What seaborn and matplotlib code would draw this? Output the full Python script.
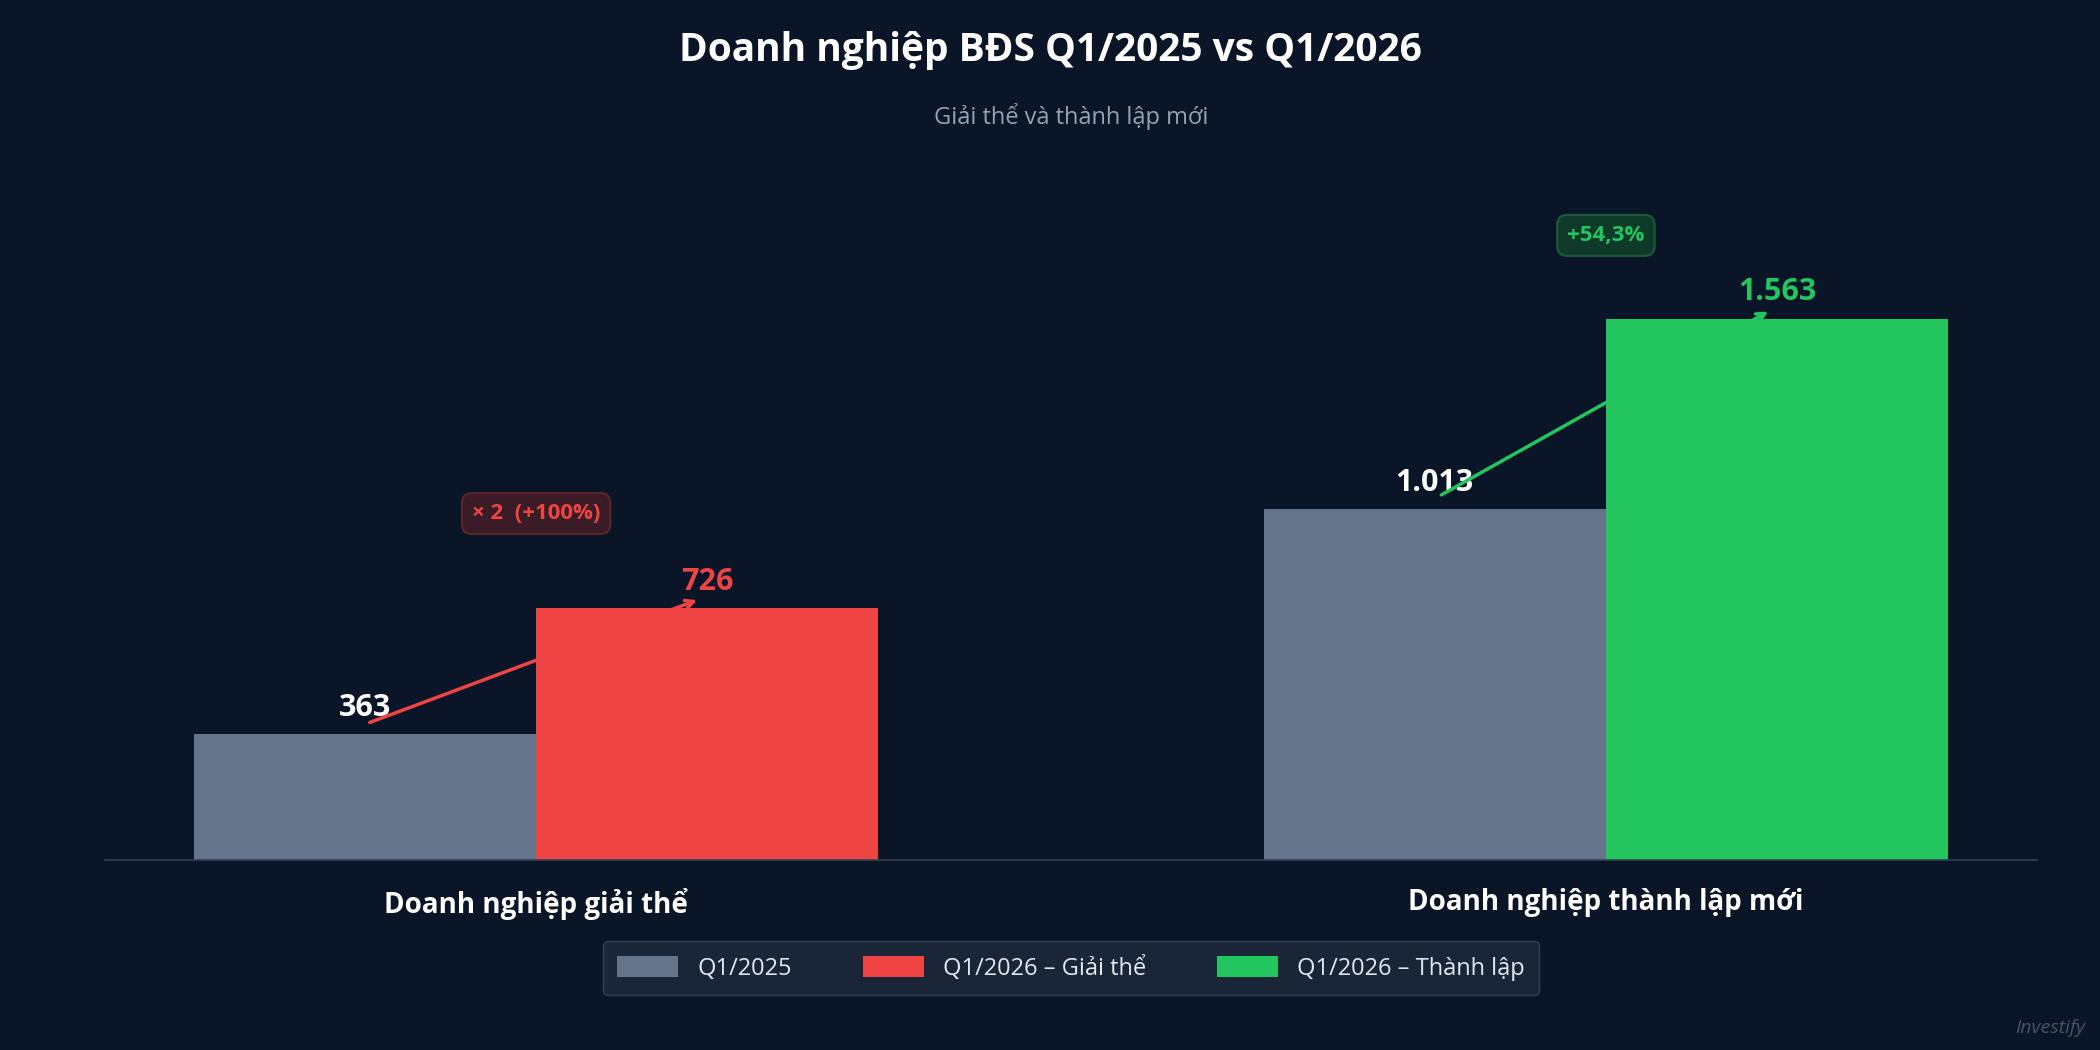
import matplotlib
matplotlib.use("Agg")
import matplotlib.pyplot as plt
import seaborn as sns
import pandas as pd
from matplotlib.patches import Patch

categories = ["Doanh nghiệp giải thể", "Doanh nghiệp thành lập mới"]
periods = ["Q1/2025", "Q1/2026"]
values_2025 = [363, 1013]
values_2026 = [726, 1563]
value_labels_2025 = ["363", "1.013"]
value_labels_2026 = ["726", "1.563"]
badges = ["× 2  (+100%)", "+54,3%"]
legend_labels = ["Q1/2025", "Q1/2026 – Giải thể", "Q1/2026 – Thành lập"]

BG = "#0a1628"
GRAY = "#64748b"
RED = "#ef4444"
GREEN = "#22c55e"
accent = [RED, GREEN]

sns.set_theme(style="dark")
plt.rcParams["font.family"] = ["Open Sans", "Noto Sans", "DejaVu Sans"]

df = pd.DataFrame({
    "cat": categories * 2,
    "period": [periods[0]] * 2 + [periods[1]] * 2,
    "value": values_2025 + values_2026,
})

fig = plt.figure(figsize=(21, 10.5), dpi=100, facecolor=BG)
ax = fig.add_axes([0.05, 0.181, 0.92, 0.64])
ax.set_facecolor(BG)
sns.barplot(data=df, x="cat", y="value", hue="period", order=categories,
            hue_order=periods, width=0.64, palette=[GRAY, RED], ax=ax,
            legend=False, saturation=1, edgecolor="none", linewidth=0)

bars = [p for p in ax.patches]
bars[3].set_facecolor(GREEN)

ax.set_xlim(-0.403, 1.403)
ax.set_ylim(0, 1940)
ax.set_yticks([])
ax.set_xlabel("")
ax.set_ylabel("")
for s in ["top", "right", "left"]:
    ax.spines[s].set_visible(False)
ax.spines["bottom"].set_color("#334155")
ax.spines["bottom"].set_linewidth(1.2)
ax.tick_params(axis="x", length=0, pad=20)
for t in ax.get_xticklabels():
    t.set_color("white"); t.set_fontsize(20); t.set_fontweight("bold")
ax.grid(False)

for i in range(2):
    ax.annotate(value_labels_2025[i], (i - 0.16, values_2025[i]), xytext=(0, 8),
                textcoords="offset points", ha="center", va="bottom",
                color="white", fontsize=22, fontweight="bold")
    ax.annotate(value_labels_2026[i], (i + 0.16, values_2026[i]), xytext=(0, 8),
                textcoords="offset points", ha="center", va="bottom",
                color=accent[i], fontsize=22, fontweight="bold")

arrows = [((-0.158, 394), (0.153, 753)), ((0.844, 1050), (1.154, 1587))]
for i, (s, e) in enumerate(arrows):
    ax.annotate("", xy=e, xytext=s,
                arrowprops=dict(arrowstyle="->", color=accent[i], lw=2.5,
                                mutation_scale=15))

badge_pos = [(0.0, 1000), (1.0, 1803)]
badge_face = ["#3a1c26", "#0f3a2a"]
badge_edge = ["#5b2530", "#1b5a3a"]
for i in range(2):
    ax.text(badge_pos[i][0], badge_pos[i][1], badges[i], ha="center", va="center",
            color=accent[i], fontsize=16, fontweight="bold",
            bbox=dict(boxstyle="round,pad=0.45", fc=badge_face[i], ec=badge_edge[i], lw=1.5))

fig.text(0.5, 0.952, "Doanh nghiệp BĐS Q1/2025 vs Q1/2026", ha="center", va="center",
         color="white", fontsize=28, fontweight="bold")
fig.text(0.51, 0.889, "Giải thể và thành lập mới", ha="center", va="center",
         color="#94a3b8", fontsize=17)

handles = [Patch(facecolor=c, edgecolor="none") for c in [GRAY, RED, GREEN]]
leg = fig.legend(handles, legend_labels, loc="center", bbox_to_anchor=(0.51, 0.078),
                 ncol=3, frameon=True, fontsize=17, labelcolor="#e2e8f0",
                 handlelength=2.6, handleheight=1.0, columnspacing=3.0,
                 borderpad=0.6)
leg.get_frame().set_facecolor("#1a2538")
leg.get_frame().set_edgecolor("#334155")
leg.get_frame().set_alpha(1)

fig.text(0.993, 0.012, "Investify", ha="right", va="bottom", color="#475569",
         fontsize=14, style="italic")

fig.savefig("out.png", dpi=100, facecolor=BG)
